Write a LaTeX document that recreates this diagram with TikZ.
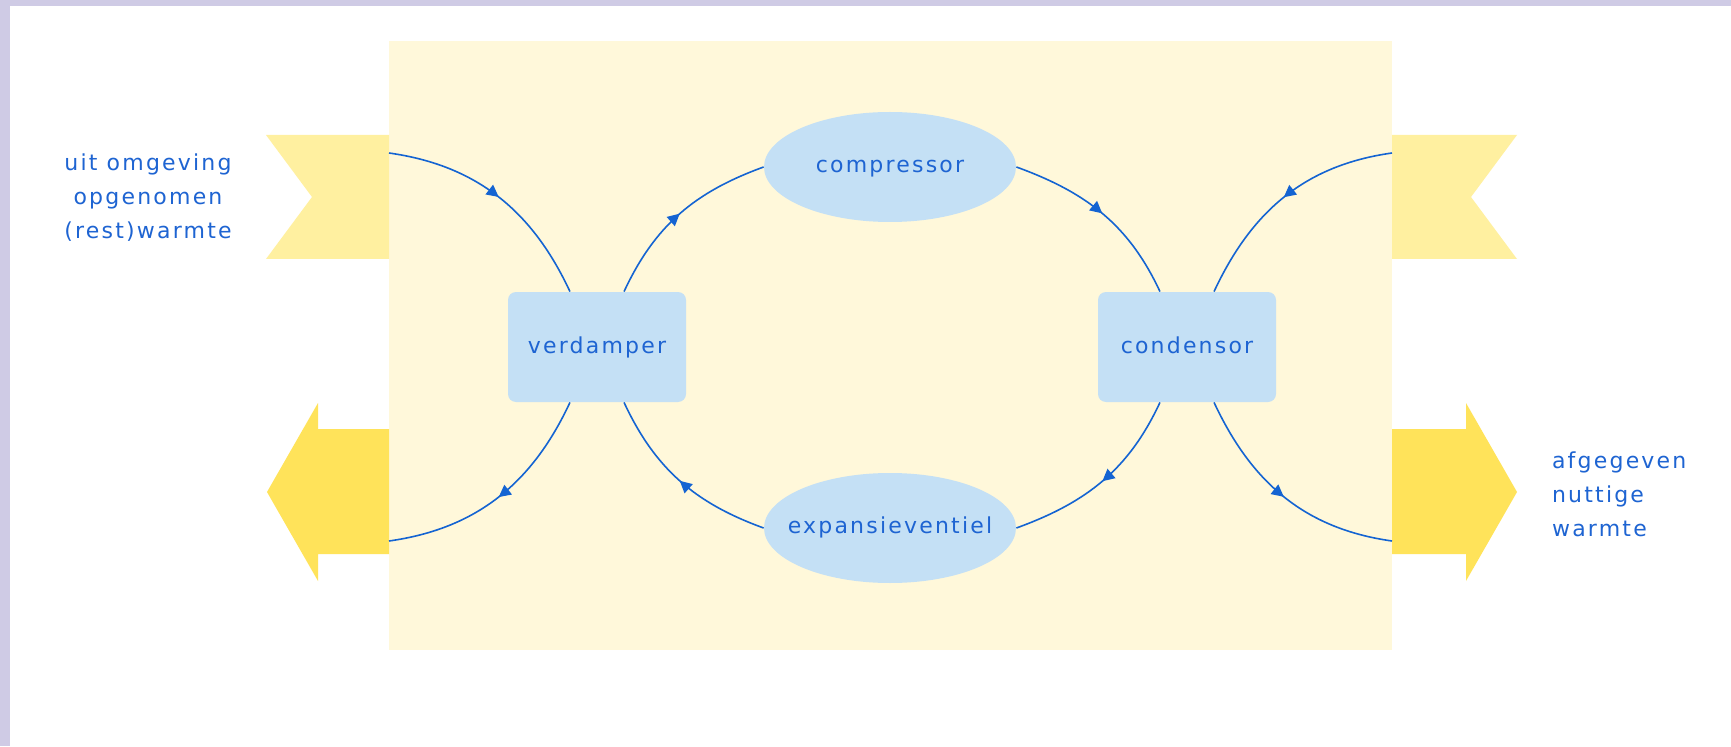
\documentclass[tikz,border=0pt]{standalone}
\usepackage{fontspec}
\setmainfont{DejaVu Sans}[LetterSpace=10]
\usetikzlibrary{shapes.geometric,decorations.markings,arrows.meta}
\definecolor{frame}{RGB}{207,203,229}
\definecolor{cream}{RGB}{255,248,218}
\definecolor{flag}{RGB}{255,240,160}
\definecolor{heat}{RGB}{255,227,90}
\definecolor{nodeblue}{RGB}{196,224,245}
\definecolor{textblue}{RGB}{30,100,210}
\definecolor{lineblue}{RGB}{20,100,210}
\begin{document}
\begin{tikzpicture}[x=0.5pt,y=0.5pt,
	box/.style={fill=nodeblue, rounded corners=4pt, minimum width=89pt, minimum height=55pt, inner sep=0pt, text height=1.1ex, text depth=0pt},
	lens/.style={ellipse, fill=nodeblue, minimum width=126pt, minimum height=55pt, inner sep=0pt, text height=1ex, text depth=0pt},
	flow/.style={lineblue, line width=0.8pt, postaction={decorate},
		decoration={markings, mark=at position 0.5 with {\arrow{Triangle[length=6pt,width=6pt]}}}},
	every node/.style={text=textblue, font=\fontsize{11}{17}\selectfont}]
	\useasboundingbox (0,0) rectangle (1731,746);
	%frame
	\fill[frame] (0,0) rectangle (1731,746);
	\fill[white] (10,0) rectangle (1731,740);
	\fill[cream] (389,96) rectangle (1392,705);
	
	%heat in and out
	\fill[flag] (266,611) -- (389,611) -- (389,487) -- (266,487) -- (312,549) -- cycle;
	\fill[flag] (1392,611) -- (1517,611) -- (1471,549) -- (1517,487) -- (1392,487) -- cycle;
	\fill[heat] (389,317) -- (318,317) -- (318,343) -- (267,254) -- (318,165) -- (318,192) -- (389,192) -- cycle;
	\fill[heat] (1392,317) -- (1466,317) -- (1466,343) -- (1517,254) -- (1466,165) -- (1466,192) -- (1392,192) -- cycle;
	
	\node[align=center] (heatin) at (148,548) {uit omgeving\\opgenomen\\(rest)warmte};
	\node[align=left, anchor=west] (heatout) at (1545,252) {afgegeven\\nuttige\\warmte};
	
	%components
	\node[box] (verd) at (597,399) {verdamper};
	\node[box] (cond) at (1187,399) {condensor};
	\node[lens] (comp) at (890,579) {\makebox[80pt]{compressor}};
	\node[lens] (expa) at (890,218) {\makebox[80pt]{expansieventiel}};
	
	\coordinate (inL) at (389,593);
	\coordinate (outL) at (389,205);
	\coordinate (inR) at (1392,593);
	\coordinate (outR) at (1392,205);
	
	%circuit
	\draw[flow] (inL) to[out=-8, in=115] (verd.116);
	\draw[flow] (verd.64) to[out=65, in=200] (comp.west);
	\draw[flow] (comp.east) to[out=-20, in=115] (cond.116);
	\draw[flow] (inR) to[out=188, in=65] (cond.64);
	\draw[flow] (cond.244) to[out=245, in=20] (expa.east);
	\draw[flow] (cond.296) to[out=-65, in=172] (outR);
	\draw[flow] (expa.west) to[out=160, in=-65] (verd.296);
	\draw[flow] (verd.244) to[out=-115, in=8] (outL);
\end{tikzpicture}
\end{document}
